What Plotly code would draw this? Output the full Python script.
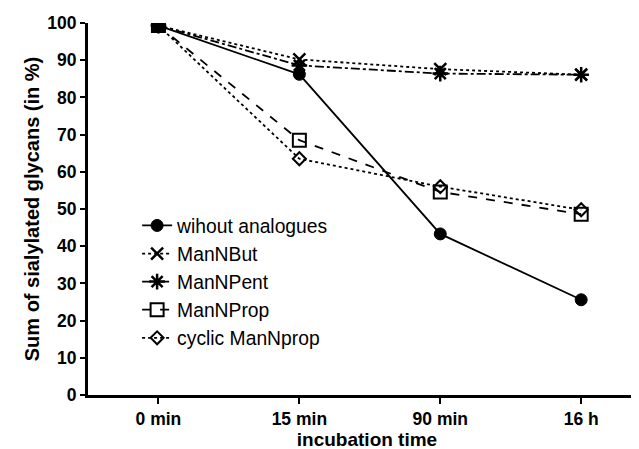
import plotly.graph_objects as go

categories = ["0 min", "15 min", "90 min", "16 h"]
without_analogues = [99.3, 86.2, 43.3, 25.6]
man_n_but = [99.3, 90.2, 87.6, 86.1]
man_n_pent = [99.3, 88.6, 86.4, 86.1]
man_n_prop = [99.3, 68.5, 54.6, 48.6]
cyclic_man_n_prop = [99.3, 63.5, 56.0, 49.8]

series = [
    ("wihout analogues", without_analogues, "solid", "circle", 12, 1),
    ("ManNBut", man_n_but, "dot", "x-thin-open", 12, 2.5),
    ("ManNPent", man_n_pent, "dashdot", "asterisk-open", 13, 2.5),
    ("ManNProp", man_n_prop, "dash", "square-open", 13, 2),
    ("cyclic ManNprop", cyclic_man_n_prop, "dot", "diamond-open", 10, 2),
]

fig = go.Figure()
for name, vals, dash, sym, size, mlw in series:
    fig.add_trace(go.Scatter(
        x=list(range(len(categories))), y=vals, name=name, mode="lines+markers",
        line=dict(color="black", width=1.8, dash=dash),
        marker=dict(symbol=sym, size=size, color="black",
                    line=dict(color="black", width=mlw)),
    ))

font = "Liberation Sans, Arial, sans-serif"
fig.update_layout(
    width=639, height=449,
    margin=dict(l=80, r=1, t=15, b=62),
    plot_bgcolor="white", paper_bgcolor="white",
    font=dict(family=font, color="black"),
    showlegend=True,
    legend=dict(x=0.088, y=0.507, xanchor="left", yanchor="top",
                font=dict(size=19.3, family=font),
                bgcolor="rgba(0,0,0,0)", itemwidth=30),
    xaxis=dict(
        range=[-0.5, 3.46], tickmode="array", tickvals=list(range(len(categories))),
        ticktext=categories, showgrid=False, zeroline=False,
        showline=True, linecolor="black", linewidth=3,
        ticks="outside", ticklen=6, tickwidth=2, tickcolor="black",
        tickfont=dict(size=17.5, family=font, weight="bold"),
        title=dict(text="<b>incubation time</b>", font=dict(size=19), standoff=0),
    ),
    yaxis=dict(
        range=[0, 100], tickvals=list(range(0, 101, 10)),
        showgrid=False, zeroline=False,
        showline=True, linecolor="black", linewidth=3,
        ticks="outside", ticklen=5, tickwidth=2, tickcolor="black",
        tickfont=dict(size=17.5, family=font, weight="bold"),
        title=dict(text="<b>Sum of sialylated glycans (in %)</b>", font=dict(size=20), standoff=3),
    ),
)

fig.write_html("out.html")
